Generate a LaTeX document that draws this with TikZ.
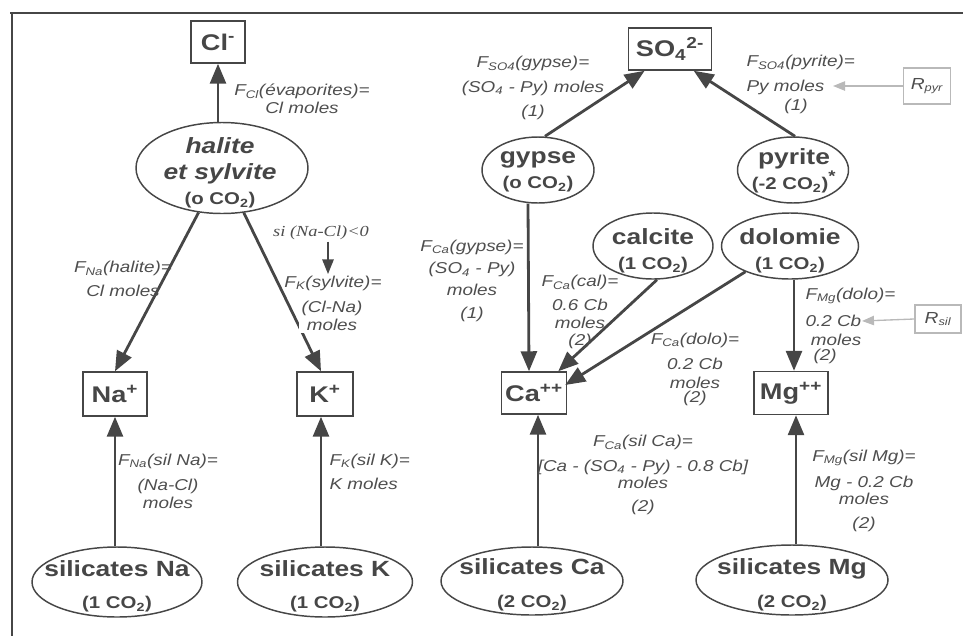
\documentclass[tikz,border=0pt]{standalone}
\usepackage{fontspec}
\setmainfont{Liberation Sans}[FakeStretch=1.2]
\newfontfamily\serifit{Liberation Serif}[FakeStretch=1.2]
\usetikzlibrary{arrows.meta,calc,shapes.geometric}
\definecolor{ink}{HTML}{464646}
\definecolor{labc}{HTML}{4E4E4E}
\newcommand{\pxu}{0.75pt}
\newcommand{\co}[1]{{\fontsize{12.75}{15}\selectfont (#1 CO\textsubscript{2})}}
\tikzset{
 ionbox/.style={draw=ink, line width=1.1pt, inner sep=0pt, font=\bfseries\fontsize{17}{20}\selectfont, text=ink},
 mineral/.style={ellipse, draw=ink, line width=1.1pt, inner sep=0pt},
 mtext/.style={font=\bfseries\fontsize{16.5}{19}\selectfont, text=ink, align=center, inner sep=0pt},
 flux/.style={draw=ink, line width=2.1pt, -{Triangle[length=15pt,width=12pt]}},
 smallarr/.style={draw=ink, line width=1.3pt, -{Triangle[length=11pt,width=8.5pt]}},
 lab/.style={font=\itshape\fontsize{11.8}{14.3}\selectfont, text=labc, align=center, inner sep=1pt},
 rbox/.style={draw=gray!55, line width=1.2pt, inner sep=0pt, font=\itshape\fontsize{12}{14}\selectfont, text=labc},
 rarr/.style={draw=gray!55, line width=1pt, -{Triangle[length=9pt,width=7pt]}},
 frame/.style={draw=ink, line width=1.5pt},
}
\begin{document}
\begin{tikzpicture}[x=0.75pt,y=-0.75pt]
\useasboundingbox (0,0) rectangle (963,636);
\draw[frame] (10,13) -- (963,13);
\draw[frame] (12,13) -- (12,636);

% ion boxes
\node[ionbox, minimum width=54*\pxu, minimum height=42*\pxu] (Cl) at (218,42) {Cl\textsuperscript{-}};
\node[ionbox, minimum width=64*\pxu, minimum height=44*\pxu] (Na) at (115,394) {Na\textsuperscript{+}};
\node[ionbox, minimum width=56*\pxu, minimum height=44*\pxu] (K) at (325,394) {K\textsuperscript{+}};
\node[ionbox, minimum width=83*\pxu, minimum height=42*\pxu] (SO4) at (670,49) {SO\textsubscript{4}\textsuperscript{2-}};
\node[ionbox, minimum width=65*\pxu, minimum height=42*\pxu] (Ca) at (534,393) {Ca\textsuperscript{++}};
\node[ionbox, minimum width=74*\pxu, minimum height=43*\pxu] (Mg) at (791,393) {Mg\textsuperscript{++}};

% minerals
\node[mineral, minimum width=172*\pxu, minimum height=91*\pxu] (halite) at (222,168) {};
\node[mtext] (haliteT) at (220,173) {\textit{halite}\\\textit{et sylvite}\\\co{o}};
\node[mineral, minimum width=112*\pxu, minimum height=66*\pxu] (gypse) at (538,170) {};
\node[mtext] (gypseT) at (538,172) {gypse\\\co{o}};
\node[mineral, minimum width=111*\pxu, minimum height=66*\pxu] (pyrite) at (793,170) {};
\node[mtext] (pyriteT) at (794,171) {pyrite\\\co{-2}\textsuperscript{*}};
\node[mineral, minimum width=120*\pxu, minimum height=66*\pxu] (calcite) at (653,246) {};
\node[mtext] (calciteT) at (653,251) {calcite\\\co{1}};
\node[mineral, minimum width=137*\pxu, minimum height=66*\pxu] (dolomie) at (790,246) {};
\node[mtext] (dolomieT) at (790,251) {dolomie\\\co{1}};
\node[mineral, minimum width=170*\pxu, minimum height=70*\pxu] (silNa) at (117,582) {};
\node[mtext] (silNaT) at (117,586) {silicates Na\\[5pt]\co{1}};
\node[mineral, minimum width=175*\pxu, minimum height=70*\pxu] (silK) at (325,582) {};
\node[mtext] (silKT) at (325,586) {silicates K\\[5pt]\co{1}};
\node[mineral, minimum width=182*\pxu, minimum height=68*\pxu] (silCa) at (532,581) {};
\node[mtext] (silCaT) at (532,585) {silicates Ca\\[6pt]\co{2}};
\node[mineral, minimum width=192*\pxu, minimum height=70*\pxu] (silMg) at (792,580) {};
\node[mtext] (silMgT) at (792,585) {silicates Mg\\[6pt]\co{2}};

% reservoirs
\node[rbox, minimum width=47*\pxu, minimum height=36*\pxu] (Rpyr) at (927,86) {R\textsubscript{pyr}};
\node[rbox, minimum width=46*\pxu, minimum height=28*\pxu] (Rsil) at (938,319) {R\textsubscript{sil}};
\coordinate (pyT) at (833,86);
\coordinate (silT) at (862,321);

% fluxes
\draw[flux] (halite.north -| Cl.south) -- (Cl.south);
\draw[flux] (halite) -- (Na.north);
\draw[flux] (halite) -- ($(K.north)+(-4,0)$);
\draw[flux] (silNa.north -| Na.south) -- (Na.south);
\draw[flux] ($(silK.north)+(-4,0)$) -- ($(K.south)+(-4,0)$);
\draw[flux] ($(gypse.north)+(7,0)$) -- ($(SO4.south west)!0.2!(SO4.south east)$);
\draw[flux] ($(pyrite.north)+(2,0)$) -- ($(SO4.south west)!0.78!(SO4.south east)$);
\draw[flux] ($(gypse.south)+(-10,0)$) -- ($(Ca.north)+(-5,0)$);
\draw[flux] ($(calcite.south)+(4,0)$) -- ($(Ca.north east)+(-9,0)$);
\draw[flux] (dolomie.210) -- ($(Ca.east)+(-2,-8)$);
\draw[flux] ($(dolomie.south)+(4,0)$) -- ($(Mg.north)+(3,0)$);
\draw[flux] ($(silCa.north)+(6,0)$) -- ($(Ca.south)+(4,0)$);
\draw[flux] ($(silMg.north)+(4,0)$) -- ($(Mg.south)+(5,0)$);
\draw[rarr] (Rpyr.west) -- (pyT);
\draw[rarr] (Rsil.west) -- (silT);

% labels
\node[lab] (lCl) at (302,99) {F\textsubscript{Cl}(évaporites)=\\[-1pt]Cl moles};
\node[lab] (lNaH) at (123,279) {F\textsubscript{Na}(halite)=\\[3.5pt]Cl moles};
\node[lab, font=\serifit\itshape\fontsize{11.5}{14}\selectfont, fill=white] (lsi) at (321,233) {si (Na-Cl)<0};
\node[lab] (lKs1) at (333,283) {F\textsubscript{K}(sylvite)=};
\node[lab, fill=white, inner sep=2pt] (lKs2) at (332,316) {(Cl-Na)\\[-1pt]moles};
\draw[smallarr] ($(lsi.south)+(7,0)$) -- ($(lKs1.north)+(-5,0)$);
\node[lab] (lNaS) at (168,481) {F\textsubscript{Na}(sil Na)=\\[4.4pt](Na-Cl)\\[-0.8pt]moles};
\node[lab, align=left, anchor=west] (lKS) at (328,472) {F\textsubscript{K}(sil K)=\\[4pt]K moles};
\node[lab] (lSOg) at (533,88) {F\textsubscript{SO4}(gypse)=\\[4pt](SO\textsubscript{4} - Py) moles\\[4pt](1)};
\node[lab, align=left, anchor=west] (lSOp) at (745,75) {F\textsubscript{SO4}(pyrite)=\\[4pt]Py moles};
\node[lab] (lSOp1) at (796,106) {(1)};
\node[lab] (lCag) at (472,281) {F\textsubscript{Ca}(gypse)=\\[2.5pt](SO\textsubscript{4} - Py)\\[1.8pt]moles\\[3.2pt](1)};
\node[lab] (lCac) at (580,312) {F\textsubscript{Ca}(cal)=\\[3.5pt]0.6 Cb\\[-0.8pt]moles\\[-1.5pt](2)};
\node[lab] (lCad) at (695,369) {F\textsubscript{Ca}(dolo)=\\[4.5pt]0.2 Cb\\[0pt]moles\\[-3.8pt](2)};
\node[lab, align=left, anchor=west] (lMgd) at (804,326) {F\textsubscript{Mg}(dolo)=\\[6pt]0.2 Cb\\[0pt]\hspace{4pt}moles\\[-3pt]\hspace{6pt}(2)};
\node[lab] (lCas) at (643,475) {F\textsubscript{Ca}(sil Ca)=\\[4pt]{[}Ca - (SO\textsubscript{4} - Py) - 0.8 Cb{]}\\[-1pt]moles\\[2.5pt](2)};
\node[lab] (lMgs) at (864,491) {F\textsubscript{Mg}(sil Mg)=\\[5pt]Mg - 0.2 Cb\\[-1pt]moles\\[3.7pt](2)};
\end{tikzpicture}
\end{document}
